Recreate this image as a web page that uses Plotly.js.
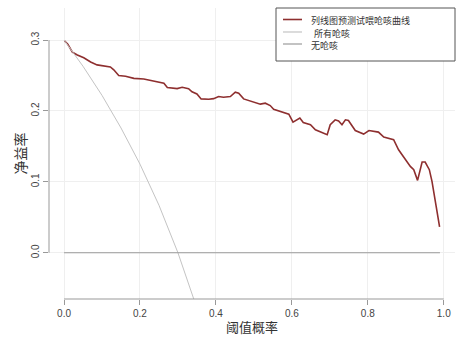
<!DOCTYPE html>
<html>
<head>
<meta charset="utf-8">
<script src="https://cdn.plot.ly/plotly-3.0.1.min.js"></script>
<style>html,body{margin:0;padding:0;background:#fff;}#chart{width:458px;height:341px;}</style>
</head>
<body>
<div id="chart"></div>
<script>
// Model (nomogram) net benefit curve
const modelX = [0.001,0.01,0.022,0.035,0.052,0.07,0.087,0.105,0.122,0.131,0.144,0.162,0.184,0.21,0.236,0.254,0.263,0.272,0.289,0.298,0.311,0.328,0.337,0.35,0.361,0.381,0.394,0.407,0.42,0.438,0.451,0.46,0.473,0.491,0.499,0.517,0.53,0.543,0.552,0.583,0.592,0.603,0.621,0.63,0.649,0.662,0.693,0.701,0.714,0.723,0.732,0.741,0.749,0.767,0.789,0.803,0.828,0.842,0.868,0.881,0.912,0.921,0.931,0.943,0.951,0.962,0.969,0.98,0.989];
const modelY = [0.299,0.294,0.283,0.279,0.275,0.269,0.265,0.263,0.262,0.258,0.250,0.249,0.246,0.245,0.242,0.240,0.239,0.233,0.232,0.2315,0.2335,0.2315,0.227,0.224,0.217,0.2166,0.2174,0.2203,0.2194,0.2203,0.2264,0.225,0.217,0.2142,0.2132,0.2096,0.211,0.2076,0.2025,0.1978,0.1955,0.1842,0.1899,0.1837,0.1805,0.1734,0.1664,0.1805,0.1875,0.186,0.1805,0.1875,0.1865,0.1724,0.1674,0.1724,0.1702,0.1631,0.1594,0.1453,0.1218,0.1172,0.1021,0.128,0.128,0.1172,0.1007,0.0655,0.0366];
// Treat all
const allX = [0,0.05,0.1,0.15,0.2,0.25,0.3,0.343,0.36];
const allY = [0.30,0.263,0.222,0.176,0.125,0.067,0.0,-0.065,-0.094];
// Treat none
const noneX = [0,0.99];
const noneY = [0,0];
const names = ["列线图预测试喂呛咳曲线","所有呛咳","无呛咳"];
const colors = ['#8e2f2f','#c4c4c4','#9a9a9a'];
const xTicks = [0,0.2,0.4,0.6,0.8,1.0];
const xTickText = ["0.0","0.2","0.4","0.6","0.8","1.0"];
const yTicks = [0,0.1,0.2,0.3];
const yTickText = ["0.0","0.1","0.2","0.3"];

const traces = [
  {x: modelX, y: modelY, name: names[0], mode: 'lines', line: {color: colors[0], width: 1.6}},
  {x: allX, y: allY, name: names[1], mode: 'lines', line: {color: colors[1], width: 1}},
  {x: noneX, y: noneY, name: names[2], mode: 'lines', line: {color: colors[2], width: 1.2}}
];

// Legend drawn R-style (compact box at top right of plot region)
const plotL = 49, plotT = 8, plotW = 406, plotH = 291;
const px = v => (v - plotL) / plotW;
const py = v => (plotT + plotH - v) / plotH;
const rowY = [19.5, 32, 44];
const textX = [309, 312, 309];
const shapes = [
  {type: 'line', xref: 'x', yref: 'paper', x0: 0, x1: 1, y0: 0, y1: 0, line: {color: '#999', width: 1}},
  {type: 'line', xref: 'paper', yref: 'y', x0: 0, x1: 0, y0: 0, y1: 0.3, line: {color: '#999', width: 1}},
  {type: 'rect', xref: 'paper', yref: 'paper', x0: px(276), x1: px(455), y0: py(61), y1: py(8),
   line: {color: '#555', width: 1}, fillcolor: '#fff', layer: 'above'}
];
const annotations = [];
names.forEach((n, i) => {
  shapes.push({type: 'line', xref: 'paper', yref: 'paper', x0: px(283), x1: px(302), y0: py(rowY[i]), y1: py(rowY[i]),
               line: {color: colors[i], width: i === 0 ? 1.6 : 1.2}, layer: 'above'});
  annotations.push({xref: 'paper', yref: 'paper', x: px(textX[i]), y: py(rowY[i] + 1), text: n, showarrow: false,
                    xanchor: 'left', yanchor: 'middle', font: {family: 'Noto Sans CJK SC', size: 9, color: '#333'}});
});

const layout = {
  width: 458, height: 341,
  margin: {l: plotL, r: 458 - plotL - plotW, t: plotT, b: 341 - plotT - plotH},
  paper_bgcolor: '#fff', plot_bgcolor: '#fff',
  font: {family: 'Liberation Sans, Arial, sans-serif', size: 10, color: '#444'},
  showlegend: false,
  xaxis: {range: [-0.0396, 1.0296], tickvals: xTicks, ticktext: xTickText, ticks: 'outside', ticklen: 5,
          tickcolor: '#999', showline: false, zeroline: false, showgrid: true, gridcolor: '#efefef',
          title: {text: '阈值概率', font: {family: 'Noto Sans CJK SC', size: 13, color: '#333'}, standoff: 4}},
  yaxis: {range: [-0.0652, 0.3452], tickvals: yTicks, ticktext: yTickText, ticks: 'outside', ticklen: 5,
          tickcolor: '#999', tickangle: -90, showline: false, zeroline: false, showgrid: true, gridcolor: '#efefef',
          title: {text: '净益率', font: {family: 'Noto Sans CJK SC', size: 14, color: '#333'}, standoff: 0}},
  shapes: shapes,
  annotations: annotations
};
Plotly.newPlot('chart', traces, layout, {displayModeBar: false, staticPlot: true});
</script>
</body>
</html>
